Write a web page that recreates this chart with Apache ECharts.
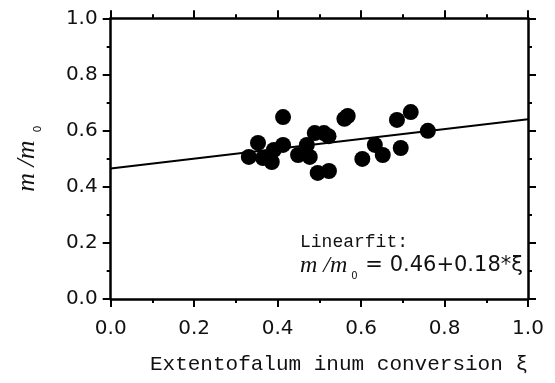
<!DOCTYPE html>
<html><head><meta charset="utf-8">
<script src="https://cdn.jsdelivr.net/npm/echarts@6/dist/echarts.min.js"></script>
<style>html,body{margin:0;padding:0;background:#fff}#c{width:555px;height:383px}</style>
</head><body><div id="c"></div>
<script>
// Data
const pointsX = [0.331,0.353,0.365,0.386,0.391,0.413,0.413,0.449,0.470,0.477,0.489,0.511,0.522,0.496,0.523,0.560,0.568,0.603,0.633,0.652,0.686,0.695,0.719,0.760];
const pointsY = [0.506,0.556,0.502,0.488,0.531,0.549,0.648,0.513,0.549,0.506,0.591,0.591,0.580,0.449,0.456,0.642,0.652,0.499,0.549,0.513,0.638,0.538,0.666,0.599];
const fitX = [0, 1];
const fitY = [0.465, 0.64];
const xTicks = [0, 0.2, 0.4, 0.6, 0.8, 1.0];
const yTicks = [0, 0.2, 0.4, 0.6, 0.8, 1.0];

const chart = echarts.init(document.getElementById('c'));
const axisLine = {show:true, onZero:false, lineStyle:{color:'#000', width:2.5}};
const tick = {show:true, inside:false, length:8, lineStyle:{color:'#000', width:2}};
const minor = {show:true, splitNumber:2, length:4, lineStyle:{color:'#000', width:2}};
const lblFont = {fontFamily:'DejaVu Sans', fontSize:20, color:'#111'};
chart.setOption({
  animation:false,
  backgroundColor:'#fff',
  grid:{left:110.7, right:27, top:18.3, bottom:84, containLabel:false},
  xAxis:[{
    type:'value', min:xTicks[0], max:xTicks[xTicks.length-1], interval:0.2, position:'bottom',
    axisLine, axisTick:tick, minorTick:minor, splitLine:{show:false}, minorSplitLine:{show:false},
    axisLabel:Object.assign({margin:20, formatter:v=>v.toFixed(1)}, lblFont),
    name:'Extentofalum inum conversion ξ', nameLocation:'end', nameGap:0,
    nameTextStyle:{fontFamily:'Liberation Mono', fontSize:21, color:'#111', align:'right', verticalAlign:'top', padding:[55,0,0,0]}
  },{
    type:'value', min:0, max:1, interval:0.2, position:'top',
    axisLine, axisTick:tick, minorTick:minor, splitLine:{show:false}, axisLabel:{show:false}
  }],
  yAxis:[{
    type:'value', min:yTicks[0], max:yTicks[yTicks.length-1], interval:0.2, position:'left',
    axisLine, axisTick:tick, minorTick:minor, splitLine:{show:false}, minorSplitLine:{show:false},
    axisLabel:Object.assign({margin:13, formatter:v=>v.toFixed(1)}, lblFont),
    name:'{i|m /m}{s|0}', nameLocation:'middle', nameGap:71,
    nameTextStyle:{rich:{
      i:{fontFamily:'Liberation Serif', fontStyle:'italic', fontSize:26, color:'#111', verticalAlign:'top', lineHeight:26},
      s:{fontFamily:'DejaVu Sans', fontSize:11, color:'#111', verticalAlign:'top', lineHeight:11, padding:[19,0,0,8]}
    }}
  },{
    type:'value', min:0, max:1, interval:0.2, position:'right',
    axisLine, axisTick:tick, minorTick:minor, splitLine:{show:false}, axisLabel:{show:false}
  }],
  series:[{
    type:'line', data:fitX.map((x,i)=>[x,fitY[i]]), symbol:'none',
    lineStyle:{color:'#000', width:2}, z:2
  },{
    type:'scatter', data:pointsX.map((x,i)=>[x,pointsY[i]]), symbol:'circle', symbolSize:16,
    itemStyle:{color:'#000', opacity:1}, z:3
  }],
  graphic:[
    {type:'text', left:300, top:233, style:{text:'Linearfit:', font:'18px "Liberation Mono"', fill:'#111'}},
    {type:'text', left:300, top:254, style:{
      text:'{i|m /m}{s|0}{n| = 0.46+0.18*ξ}',
      rich:{
        i:{font:'italic 24px "Liberation Serif"', fill:'#111'},
        s:{font:'10px "DejaVu Sans"', fill:'#111', padding:[20,1,0,4]},
        n:{font:'21px "DejaVu Sans"', fill:'#111'}
      }}}
  ]
});
</script></body></html>
